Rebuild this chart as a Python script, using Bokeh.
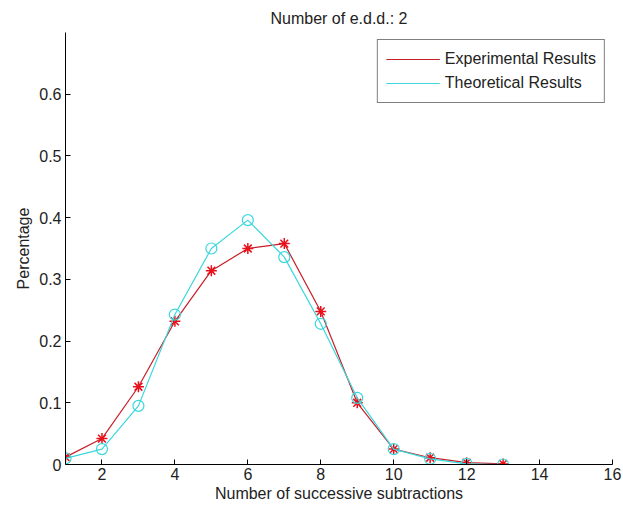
from bokeh.plotting import figure
from bokeh.models import FixedTicker, Range1d, Legend, LegendItem
from bokeh.embed import file_html
from bokeh.resources import INLINE

x_vals = [1, 2, 3, 4, 5, 6, 7, 8, 9, 10, 11, 12, 13]
experimental = [0.012, 0.042, 0.126, 0.232, 0.314, 0.350, 0.358, 0.248, 0.100, 0.025, 0.011, 0.003, 0.001]
theoretical = [0.010, 0.025, 0.095, 0.243, 0.350, 0.396, 0.336, 0.228, 0.108, 0.025, 0.009, 0.001, 0.000]
x_ticks = [2, 4, 6, 8, 10, 12, 14, 16]
y_ticks = [0, 0.1, 0.2, 0.3, 0.4, 0.5, 0.6]

FONT = "Liberation Sans"

p = figure(width=623, height=510, output_backend="svg", toolbar_location=None,
           x_range=Range1d(1, 16), y_range=Range1d(0, 0.7),
           min_border_left=65, min_border_right=11, min_border_top=32, min_border_bottom=46)
p.title.text = "Number of e.d.d.: 2"
p.title.align = "center"
p.title.text_font = FONT
p.title.text_font_size = "16px"
p.title.text_font_style = "normal"
p.title.text_color = "#222222"
p.title.offset = 0
p.title.standoff = 11
p.outline_line_color = None
p.grid.visible = False
p.background_fill_color = "white"
p.border_fill_color = "white"

for ax in (p.xaxis[0], p.yaxis[0]):
    ax.major_tick_in = 5
    ax.major_tick_out = 0
    ax.minor_tick_line_color = None
    ax.axis_line_color = "black"
    ax.major_tick_line_color = "black"
    ax.major_label_text_font = FONT
    ax.major_label_text_font_size = "16px"
    ax.major_label_text_color = "#222222"
    ax.axis_label_text_font = FONT
    ax.axis_label_text_font_size = "16px"
    ax.axis_label_text_font_style = "normal"
    ax.axis_label_text_color = "#222222"

p.xaxis.ticker = FixedTicker(ticks=x_ticks)
p.yaxis.ticker = FixedTicker(ticks=y_ticks)
p.xaxis.axis_label = "Number of successive subtractions"
p.yaxis.axis_label = "Percentage"
p.xaxis.axis_label_standoff = 2
p.yaxis.axis_label_standoff = 4
p.xaxis.major_label_standoff = 3
p.yaxis.major_label_standoff = 4

red_line = "#c81e28"
red_mark = "#e8101a"
cyan = "#3ad8dc"

r1 = p.line(x_vals, experimental, line_color=red_line, line_width=1.2)
p.scatter(x_vals, experimental, marker="asterisk", size=11, line_color=red_mark, line_width=1.5)
r2 = p.line(x_vals, theoretical, line_color=cyan, line_width=1.2)
p.scatter(x_vals, theoretical, marker="circle", size=11, fill_color=None, line_color=cyan, line_width=1.2)

legend = Legend(items=[LegendItem(label="Experimental Results", renderers=[r1]),
                       LegendItem(label="Theoretical Results", renderers=[r2])],
                location="top_right")
legend.label_text_font = FONT
legend.label_text_font_size = "16px"
legend.label_text_color = "#222222"
legend.glyph_width = 54
legend.glyph_height = 22
legend.label_height = 22
legend.spacing = 2
legend.padding = 8
legend.margin = 7
legend.label_standoff = 5
legend.border_line_color = "black"
legend.border_line_width = 1
legend.background_fill_alpha = 1
p.add_layout(legend)

open("out.html", "w").write(file_html(p, INLINE))
